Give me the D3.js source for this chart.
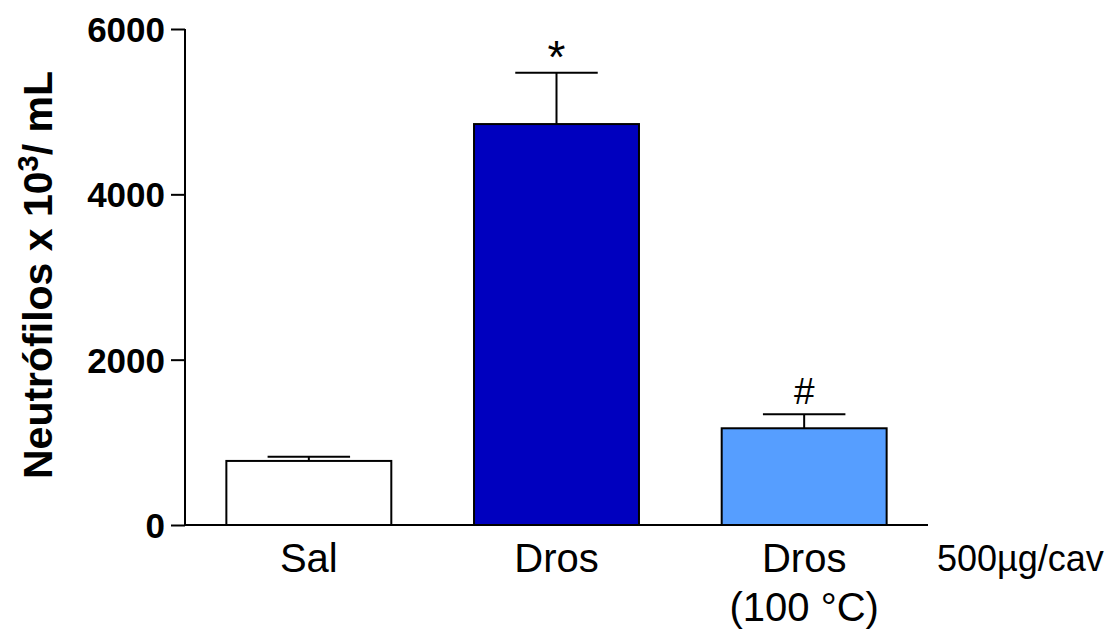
<!DOCTYPE html>
<html>
<head>
  <meta charset="utf-8">
  <style>
    body { margin: 0; background: #fff; }
    svg { display: block; font-family: "Liberation Sans", Arial, sans-serif; }
  </style>
</head>
<body>
  <div id="chart"></div>
  <script src="https://d3js.org/d3.v7.min.js"></script>
  <script>
    // data
    var groups = ['Sal', 'Dros', 'Dros100'];
    var groupLabels = [['Sal'], ['Dros'], ['Dros', '(100 °C)']];
    var means = [775, 4850, 1170];
    var sem = [50, 620, 170];
    var marks = ['', '*', '#'];
    var fills = ['#ffffff', '#0000bf', '#569eff'];
    var yTicks = [0, 2000, 4000, 6000];

    var width = 1109, height = 633;
    var x0 = 185, x1 = 928, yTop = 29, yBase = 525;

    var svg = d3.select('#chart').append('svg')
        .attr('width', width)
        .attr('height', height);

    var x = d3.scaleBand()
        .domain(groups)
        .range([x0, x1])
        .paddingInner(0.334)
        .paddingOuter(0.167);

    var y = d3.scaleLinear()
        .domain([0, 6000])
        .range([yBase, yTop]);

    // bars
    svg.append('g').selectAll('rect')
        .data(groups)
        .join('rect')
        .attr('x', d => x(d))
        .attr('y', (d, i) => y(means[i]))
        .attr('width', x.bandwidth())
        .attr('height', (d, i) => y(0) - y(means[i]))
        .attr('fill', (d, i) => fills[i])
        .attr('stroke', '#000')
        .attr('stroke-width', 2);

    // error bars (upper only)
    var eb = svg.append('g').attr('stroke', '#000').attr('stroke-width', 2);
    groups.forEach(function (g, i) {
      var cx = x(g) + x.bandwidth() / 2;
      var capW = x.bandwidth() / 4;
      eb.append('line')
          .attr('x1', cx).attr('x2', cx)
          .attr('y1', y(means[i])).attr('y2', y(means[i] + sem[i]));
      eb.append('line')
          .attr('x1', cx - capW).attr('x2', cx + capW)
          .attr('y1', y(means[i] + sem[i])).attr('y2', y(means[i] + sem[i]));
      if (marks[i]) {
        var star = marks[i] === '*';
        svg.append('text')
            .attr('x', cx)
            .attr('y', y(means[i] + sem[i]) - (star ? 0 : 10))
            .attr('text-anchor', 'middle')
            .style('font-size', star ? '46px' : '37px')
            .text(marks[i]);
      }
    });

    // y axis
    var yAxis = svg.append('g')
        .attr('transform', 'translate(' + x0 + ',0)')
        .call(d3.axisLeft(y).tickValues(yTicks).tickSize(14).tickPadding(6).tickFormat(d3.format('d')));
    yAxis.select('.domain').attr('stroke-width', 2).attr('d', 'M0,' + yTop + 'V' + yBase);
    yAxis.selectAll('.tick line').attr('stroke-width', 2);
    yAxis.selectAll('.tick text')
        .attr('fill', '#000')
        .style('font-family', '"Liberation Sans", Arial, sans-serif')
        .style('font-size', '35px')
        .style('font-weight', 'bold')
        .attr('dy', '0.36em');

    // x axis line
    svg.append('line')
        .attr('x1', x0).attr('x2', x1)
        .attr('y1', yBase).attr('y2', yBase)
        .attr('stroke', '#000').attr('stroke-width', 2);

    // category labels
    groups.forEach(function (g, i) {
      var cx = x(g) + x.bandwidth() / 2;
      var t = svg.append('text')
          .attr('text-anchor', 'middle')
          .style('font-size', '40px');
      groupLabels[i].forEach(function (line, j) {
        t.append('tspan').attr('x', cx).attr('y', 572 + j * 49).text(line);
      });
    });

    svg.append('text')
        .attr('x', 937)
        .attr('y', 571)
        .style('font-size', '36px')
        .text('500µg/cav');

    // y title
    var title = svg.append('text')
        .attr('transform', 'translate(52,' + 275 + ') rotate(-90)')
        .attr('text-anchor', 'middle')
        .style('font-size', '41px')
        .style('font-weight', 'bold');
    title.append('tspan').text('Neutrófilos x 10');
    title.append('tspan').attr('dy', '-0.5em').style('font-size', '29px').text('3');
    title.append('tspan').attr('dy', '0.35em').text('/ mL');
  </script>
</body>
</html>
